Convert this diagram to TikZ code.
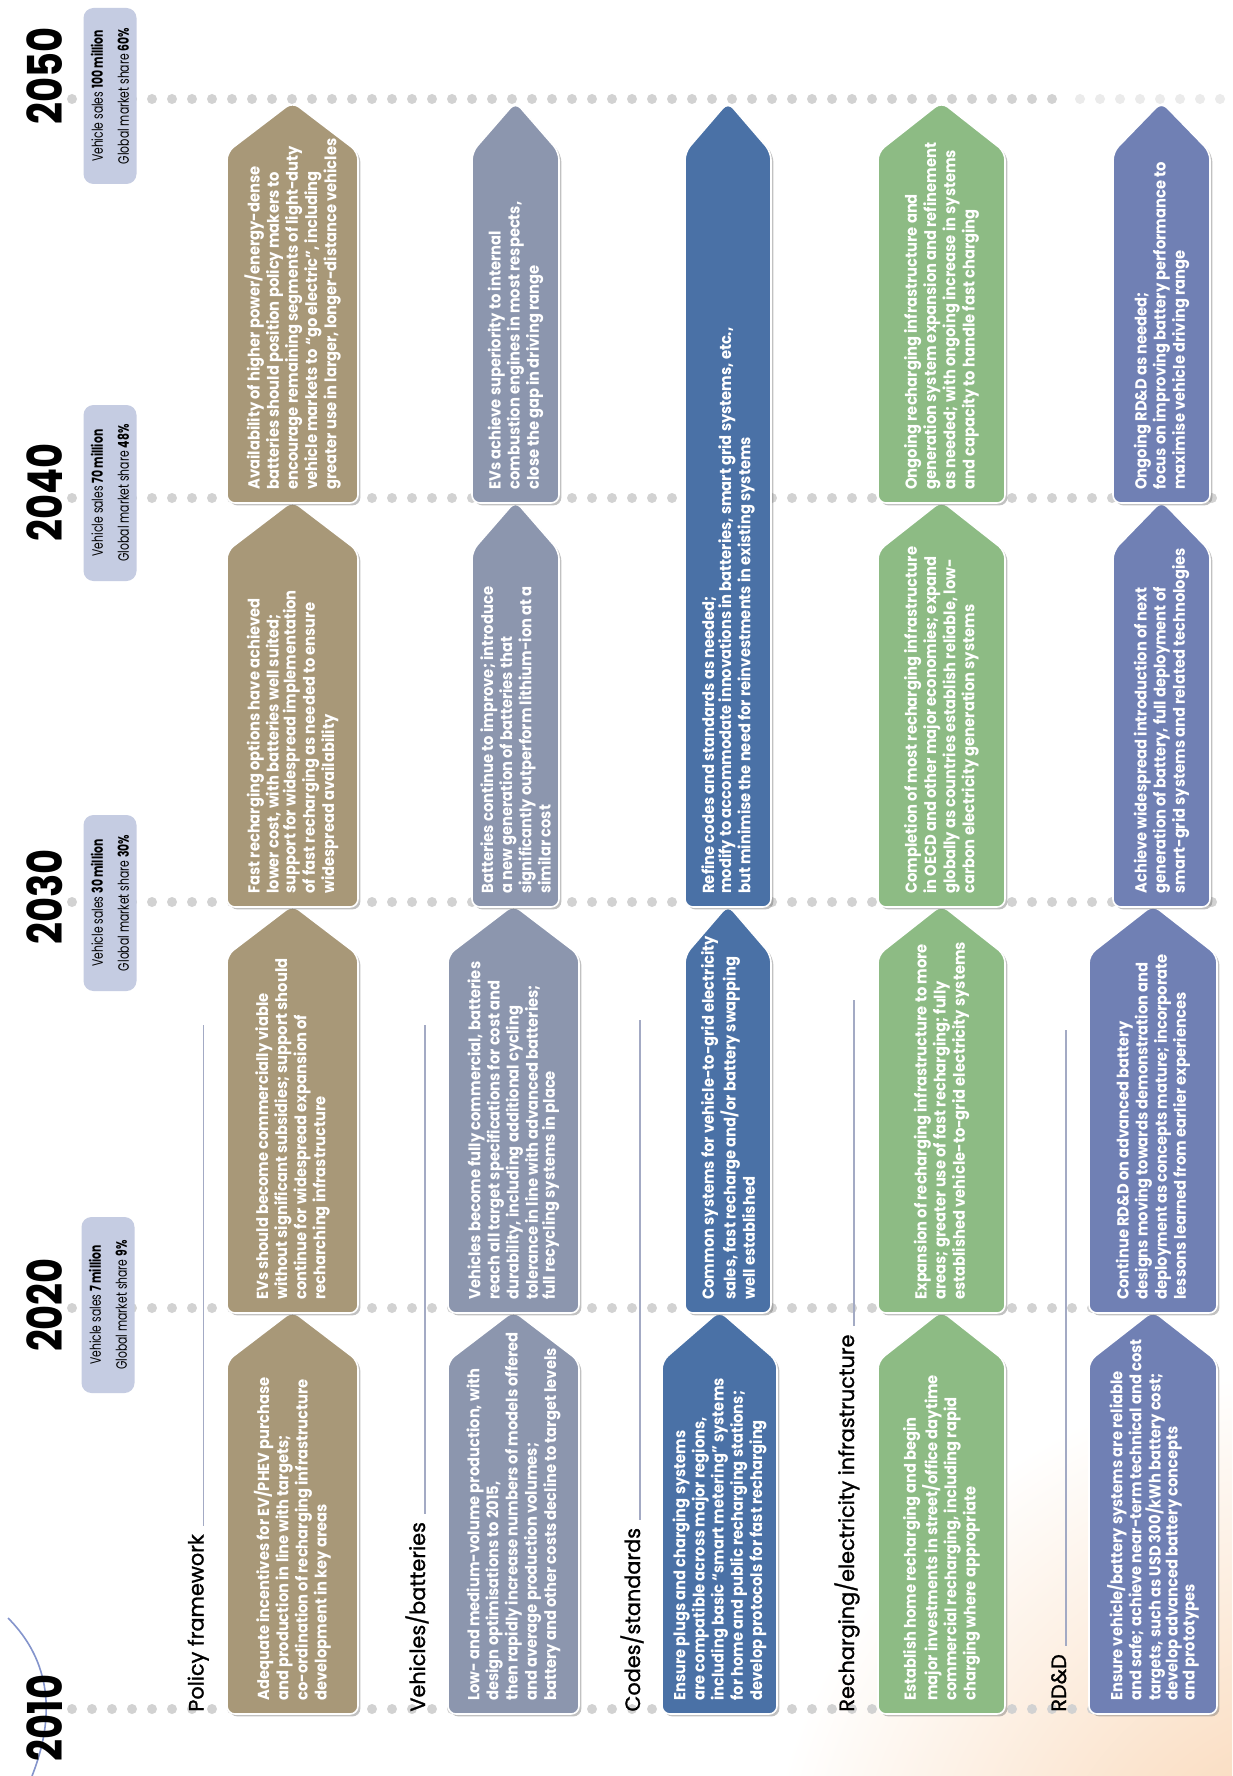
\documentclass[tikz,border=0pt]{standalone}
\usepackage{fontspec}
\setmainfont{Poppins}
\newfontfamily\boxfont{Poppins}[FakeStretch=0.92]
\newfontfamily\notefont{Poppins}[FakeStretch=0.72]
\newfontfamily\yearfont{Poppins}[FakeStretch=0.8]
\newfontfamily\catfont{Poppins}[FakeBold=1.2]
\usetikzlibrary{shadows}
\definecolor{cpol}{HTML}{A89878}
\definecolor{cveh}{HTML}{8C96AE}
\definecolor{ccod}{HTML}{4A71A6}
\definecolor{crec}{HTML}{8DBB84}
\definecolor{crdd}{HTML}{7080B4}
\definecolor{cnote}{HTML}{C5CCE2}
\definecolor{cline}{HTML}{A3AAC4}
\definecolor{cdot}{HTML}{D2D2D2}
\definecolor{cswoosh}{HTML}{8494CC}
\definecolor{cglow}{HTML}{F8D0AA}
\tikzset{
  boxshape/.style={rounded corners=4pt, draw=white, line width=0.8pt,
    drop shadow={shadow xshift=1.2pt, shadow yshift=-1.2pt, opacity=0.4, fill=black!60}},
  boxtext/.style={rotate=90, align=left, text=white, inner sep=0pt,
    font=\boxfont\bfseries\fontsize{8.0}{8.5}\selectfont},
  yearlabel/.style={rotate=90, inner sep=0pt, font=\yearfont\bfseries\fontsize{24}{24}\selectfont},
  notebox/.style={rotate=90, fill=cnote, rounded corners=5pt, minimum width=88pt,
    minimum height=26.5pt, inner sep=0pt, align=center,
    font=\notefont\fontsize{7.5}{13}\selectfont},
  catlabel/.style={rotate=90, inner sep=0pt, anchor=base west, font=\catfont\fontsize{10.4}{12}\selectfont},
  catline/.style={draw=cline, line width=0.8pt},
  dotline/.style={draw=cdot, line width=5pt, dash pattern=on 0pt off 10pt, line cap=round},
}
\newcommand{\roadbox}[7]{%
  \path[boxshape, fill=#2] (#3,#5) -- (#3,{#6+50}) -- ({(#3+#4)/2},#6) -- (#4,{#6+50}) -- (#4,#5) -- cycle;
  \node[boxtext, anchor=west] (#1) at ({(#3+#4)/2},{#5-13}) {#7};
}
\begin{document}
\begin{tikzpicture}[x=0.5pt, y=-0.5pt]
\useasboundingbox (0,0) rectangle (1232,1776);
\fill[white] (0,0) rectangle (1232,1776);
\begin{scope}
\clip (0,0) rectangle (1232,1776);
\shade[inner color=cglow, outer color=white] (1320,1930) circle (560);
\end{scope}
\draw[cswoosh, line width=0.8pt] (8,1618) .. controls (40,1650) and (62,1700) .. (32,1776);

% decade grid lines
\foreach \yy in {1709,1308,902,498} {\draw[dotline] (72,\yy) -- (1232,\yy);}
\draw[dotline] (72,99) -- (1060,99);
\draw[dotline, draw=cdot!45] (1080,99) -- (1232,99);

% years
\node[yearlabel] (y2010) at (45,1718) {2010};
\node[yearlabel] (y2020) at (45,1305) {2020};
\node[yearlabel] (y2030) at (45,897) {2030};
\node[yearlabel] (y2040) at (45,492) {2040};
\node[yearlabel] (y2050) at (45,76) {2050};

% sales notes
\node[notebox] (n2020) at (108,1305) {Vehicle sales \textbf{7 million}\\Global market share \textbf{9\%}};
\node[notebox] (n2030) at (110,903) {Vehicle sales \textbf{30 million}\\Global market share \textbf{30\%}};
\node[notebox] (n2040) at (110,493) {Vehicle sales \textbf{70 million}\\Global market share \textbf{48\%}};
\node[notebox] (n2050) at (110,96) {Vehicle sales \textbf{100 million}\\Global market share \textbf{60\%}};

% category labels
\node[catlabel] (lpol) at (203.5,1712) {Policy framework};
\node[catlabel] (lveh) at (425,1712) {Vehicles/batteries};
\node[catlabel] (lcod) at (640,1712) {Codes/standards};
\node[catlabel] (lrec) at (854,1712) {Recharging/electricity infrastructure};
\node[catlabel] (lrdd) at (1066,1712) {RD\&D};
\coordinate (epol) at (203.5,1025);
\coordinate (eveh) at (425,1025);
\coordinate (ecod) at (640,1020);
\coordinate (erec) at (854,1000);
\coordinate (erdd) at (1066,1030);
\draw[catline] ([yshift=4pt]lpol.base east) -- (epol);
\draw[catline] ([yshift=4pt]lveh.base east) -- (eveh);
\draw[catline] ([yshift=4pt]lcod.base east) -- (ecod);
\draw[catline] ([yshift=4pt]lrec.base east) -- (erec);
\draw[catline] ([yshift=4pt]lrdd.base east) -- (erdd);

% Policy framework
\roadbox{p1}{cpol}{227}{358}{1714}{1311}{Adequate incentives for EV/PHEV purchase\\and production in line with targets;\\co-ordination of recharging infrastructure\\development in key areas}
\roadbox{p2}{cpol}{227}{358}{1313}{905}{EVs should become commercially viable\\without significant subsidies; support should\\continue for widespread expansion of\\recharching infrastructure}
\roadbox{p3}{cpol}{227}{358}{907}{501}{Fast recharging options have achieved\\lower cost, with batteries well suited;\\support for widespread implementation\\of fast recharging as needed to ensure\\widespread availability}
\roadbox{p4}{cpol}{227}{358}{503}{102}{Availability of higher power/energy-dense\\batteries should position policy makers to\\encourage remaining segments of light-duty\\vehicle markets to “go electric”, including\\greater use in larger, longer-distance vehicles}

% Vehicles/batteries
\roadbox{v1}{cveh}{448}{579}{1714}{1311}{Low- and medium-volume production, with\\design optimisations to 2015,\\then rapidly increase numbers of models offered\\and average production volumes;\\battery and other costs decline to target levels}
\roadbox{v2}{cveh}{448}{579}{1313}{905}{Vehicles become fully commercial, batteries\\reach all target specifications for cost and\\durability, including additional cycling\\tolerance in line with advanced batteries;\\full recycling systems in place}
\roadbox{v3}{cveh}{472}{559}{907}{501}{Batteries continue to improve; introduce\\a new generation of batteries that\\significantly outperform lithium-ion at a\\similar cost}
\roadbox{v4}{cveh}{472}{559}{503}{102}{EVs achieve superiority to internal\\combustion engines in most respects,\\close the gap in driving range}

% Codes/standards
\roadbox{c1}{ccod}{662}{777}{1714}{1311}{Ensure plugs and charging systems\\are compatible across major regions,\\including basic “smart metering” systems\\for home and public recharging stations;\\develop protocols for fast recharging}
\roadbox{c2}{ccod}{685}{771}{1313}{905}{Common systems for vehicle-to-grid electricity\\sales, fast recharge and/or battery swapping\\well established}
\roadbox{c3}{ccod}{685}{771}{907}{102}{Refine codes and standards as needed;\\modify to accommodate innovations in batteries, smart grid systems, etc.,\\but minimise the need for reinvestments in existing systems}

% Recharging/electricity infrastructure
\roadbox{r1}{crec}{878}{1005}{1714}{1311}{Establish home recharging and begin\\major investments in street/office daytime\\commercial recharging, including rapid\\charging where appropriate}
\roadbox{r2}{crec}{878}{1005}{1313}{905}{Expansion of recharging infrastructure to more\\areas; greater use of fast recharging; fully\\established vehicle-to-grid electricity systems}
\roadbox{r3}{crec}{878}{1005}{907}{501}{Completion of most recharging infrastructure\\in OECD and other major economies; expand\\globally as countries establish reliable, low-\\carbon electricity generation systems}
\roadbox{r4}{crec}{878}{1005}{503}{102}{Ongoing recharging infrastructure and\\generation system expansion and refinement\\as needed; with ongoing increase in systems\\and capacity to handle fast charging}

% RD&D
\roadbox{d1}{crdd}{1089}{1217}{1714}{1311}{Ensure vehicle/battery systems are reliable\\and safe; achieve near-term technical and cost\\targets, such as USD 300/kWh battery cost;\\develop advanced battery concepts\\and prototypes}
\roadbox{d2}{crdd}{1089}{1217}{1313}{905}{Continue RD\&D on advanced battery\\designs moving towards demonstration and\\deployment as concepts mature; incorporate\\lessons learned from earlier experiences}
\roadbox{d3}{crdd}{1113}{1210}{907}{501}{Achieve widespread introduction of next\\generation of battery, full deployment of\\smart-grid systems and related technologies}
\roadbox{d4}{crdd}{1113}{1210}{503}{102}{Ongoing RD\&D as needed;\\focus on improving battery performance to\\maximise vehicle driving range}
\end{tikzpicture}
\end{document}
